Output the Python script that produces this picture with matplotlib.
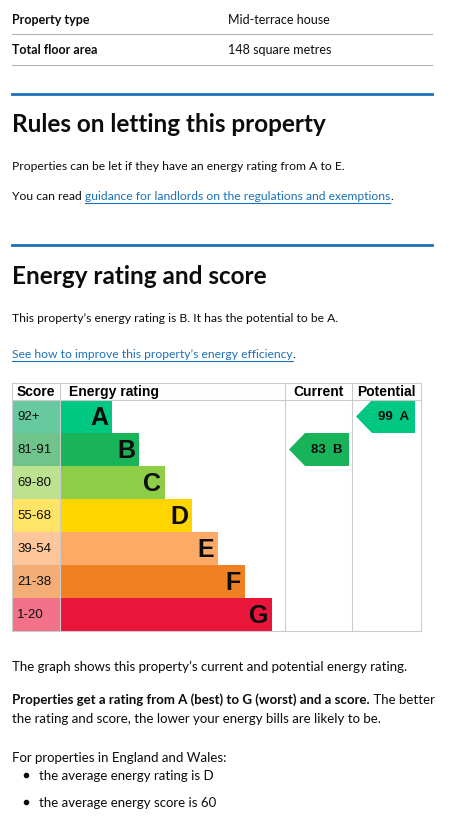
import matplotlib
matplotlib.use('Agg')
import matplotlib.pyplot as plt
from matplotlib.patches import Rectangle, Polygon

# Data
bands        = ['A', 'B', 'C', 'D', 'E', 'F', 'G']
score_ranges = ['92+', '81-91', '69-80', '55-68', '39-54', '21-38', '1-20']
band_colors  = ['#00c781', '#19b459', '#8dce46', '#ffd500', '#fcaa65', '#ef8023', '#e9153b']
score_colors = ['#66c9a0', '#6fc48b', '#bde28f', '#ffe466', '#fec69b', '#f4ad75', '#f27389']
bar_ends     = [112, 139, 165, 192, 218, 245, 272]
current      = (83, 'B')
potential    = (99, 'A')

W, H = 458, 828
fig = plt.figure(figsize=(W / 100, H / 100), dpi=100)
ax = fig.add_axes([0, 0, 1, 1])
ax.set_xlim(0, W)
ax.set_ylim(H, 0)
ax.axis('off')

BODY = 'Lato'
ARIAL = 'Liberation Sans'
TXT = '#0b0c0c'
LINK = '#1d70b8'
renderer = fig.canvas.get_renderer()


def text_width(t):
    bb = t.get_window_extent(renderer=renderer)
    return bb.width  # pixels == data units here


def write(x, y, s, size=9.5, weight='normal', color=TXT, underline=False, family=BODY):
    t = ax.text(x, y, s, fontsize=size, fontweight=weight, color=color, family=family,
                va='center', ha='left')
    w = text_width(t)
    if underline:
        ax.plot([x, x + w], [y + 7, y + 7], color=color, lw=0.8)
    return x + w


UP = 8.7  # upper section body size

# Summary list
write(12, 20, 'Property type', size=9, weight='bold')
write(228, 20, 'Mid-terrace house', size=9)
ax.plot([12, 432], [35, 35], color='#b1b4b6', lw=0.8)
write(12, 50, 'Total floor area', size=9, weight='bold')
write(228, 50, '148 square metres', size=9)
ax.plot([12, 432], [66, 66], color='#b1b4b6', lw=0.8)

# Rules section
ax.plot([12, 432], [95, 95], color=LINK, lw=2)
write(12, 125, 'Rules on letting this property', size=17.5, weight='bold')
write(12, 166, 'Properties can be let if they have an energy rating from A to E.', size=UP)
x = write(12, 197, 'You can read ', size=UP)
x = write(x, 197, 'guidance for landlords on the regulations and exemptions', size=UP,
          color=LINK, underline=True)
write(x, 197, '.', size=UP)

# Energy rating section
ax.plot([12, 432], [246, 246], color=LINK, lw=2)
write(12, 277, 'Energy rating and score', size=17.5, weight='bold')
write(12, 319, 'This property\u2019s energy rating is B. It has the potential to be A.', size=UP)
x = write(12, 355, 'See how to improve this property\u2019s energy efficiency', size=UP,
          color=LINK, underline=True)
write(x, 355, '.', size=UP)

# EPC chart
top, hdr, row_h = 384, 17, 33
left, score_r, cur_l, pot_l, right = 12, 60, 285, 352, 421
y0 = top + hdr
bottom = y0 + row_h * len(bands)
grid = '#cccccc'
for xx in [left, score_r, cur_l, pot_l, right]:
    ax.plot([xx, xx], [top, bottom], color=grid, lw=0.8)
ax.plot([left, right], [top, top], color=grid, lw=0.8)
ax.plot([left, right], [y0, y0], color=grid, lw=0.8)
ax.plot([left, right], [bottom, bottom], color=grid, lw=0.8)

hy = top + hdr / 2
ax.text(left + 5, hy, 'Score', family=ARIAL, fontweight='bold', fontsize=10, va='center')
ax.text(score_r + 9, hy, 'Energy rating', family=ARIAL, fontweight='bold', fontsize=10, va='center')
ax.text((cur_l + pot_l) / 2, hy, 'Current', family=ARIAL, fontweight='bold', fontsize=10,
        va='center', ha='center')
ax.text((pot_l + right) / 2, hy, 'Potential', family=ARIAL, fontweight='bold', fontsize=10,
        va='center', ha='center')

for i, (b, sr) in enumerate(zip(bands, score_ranges)):
    ry = y0 + i * row_h
    ax.add_patch(Rectangle((left, ry), score_r - left, row_h, color=score_colors[i], lw=0))
    ax.add_patch(Rectangle((score_r, ry), bar_ends[i] - score_r, row_h, color=band_colors[i], lw=0))
    ax.text(left + 5, ry + row_h / 2, sr, family=ARIAL, fontsize=9.5, va='center', color=TXT)
    ax.text(bar_ends[i] - 4, ry + row_h / 2 + 1, b, family=ARIAL, fontweight='bold', fontsize=18,
            va='center', ha='right', color=TXT)


def arrow(x_l, x_r, score, band):
    i = bands.index(band)
    ry = y0 + i * row_h
    tip = 16
    pts = [(x_l, ry + row_h / 2), (x_l + tip, ry), (x_r, ry), (x_r, ry + row_h), (x_l + tip, ry + row_h)]
    ax.add_patch(Polygon(pts, closed=True, color=band_colors[i], lw=0))
    ax.text((x_l + tip + x_r) / 2, ry + row_h / 2, f'{score}  {band}', family=ARIAL,
            fontweight='bold', fontsize=9.5, va='center', ha='center', color=TXT)


arrow(289, 349, *current)
arrow(356, 415, *potential)

# Text after chart
write(12, 667, 'The graph shows this property\u2019s current and potential energy rating.')
x = write(12, 700, 'Properties get a rating from A (best) to G (worst) and a score.', weight='bold')
write(x, 700, ' The better')
write(12, 719, 'the rating and score, the lower your energy bills are likely to be.')
write(12, 758, 'For properties in England and Wales:')
for yy, s in [(776, 'the average energy rating is D'), (803, 'the average energy score is 60')]:
    ax.plot([26], [yy], 'o', color=TXT, ms=3)
    write(39, yy, s)

fig.savefig('out.png', dpi=100)
